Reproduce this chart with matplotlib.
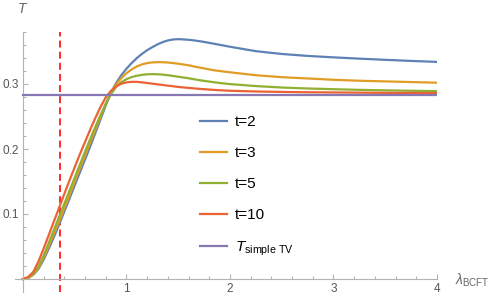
import matplotlib
matplotlib.use('Agg')
import matplotlib.pyplot as plt
from matplotlib.ticker import FixedLocator

plt.rcParams['font.family'] = ['Liberation Sans', 'DejaVu Sans']
plt.rcParams['mathtext.fontset'] = 'custom'
plt.rcParams['mathtext.rm'] = 'Liberation Sans'
plt.rcParams['mathtext.it'] = 'Liberation Sans:italic'
plt.rcParams['mathtext.bf'] = 'Liberation Sans:bold'
plt.rcParams['lines.scale_dashes'] = False

# ---- data ----
lam = [0.0, 0.05, 0.1, 0.15, 0.2, 0.25, 0.3, 0.35, 0.4, 0.45, 0.5, 0.55, 0.6,
       0.65, 0.7, 0.75, 0.8, 0.85, 0.9, 0.95, 1.0, 1.05, 1.1, 1.15, 1.2, 1.25,
       1.3, 1.35, 1.4, 1.45, 1.5, 1.55, 1.6, 1.65, 1.7, 1.75, 1.8, 1.85, 1.9,
       1.95, 2.0, 2.25, 2.5, 2.75, 3.0, 3.25, 3.5, 3.75, 4.0]
T_t2 = [0.0, 0.0015, 0.0065, 0.0155, 0.030, 0.047, 0.065, 0.084, 0.104, 0.124,
        0.144, 0.164, 0.184, 0.204, 0.225, 0.246, 0.267, 0.2865, 0.3015, 0.3135,
        0.3235, 0.3322, 0.3398, 0.3464, 0.352, 0.3567, 0.361, 0.3645, 0.367,
        0.3685, 0.369, 0.3686, 0.368, 0.3671, 0.366, 0.3647, 0.3633, 0.3618,
        0.3603, 0.3588, 0.3573, 0.3505, 0.3462, 0.3432, 0.341, 0.339, 0.3372,
        0.3355, 0.334]
T_t3 = [0.0, 0.0017, 0.007, 0.017, 0.033, 0.051, 0.070, 0.089, 0.109, 0.129,
        0.150, 0.170, 0.190, 0.210, 0.230, 0.250, 0.270, 0.2865, 0.2995, 0.309,
        0.3165, 0.3225, 0.327, 0.3302, 0.3322, 0.3332, 0.3336, 0.3335, 0.333,
        0.3322, 0.3312, 0.330, 0.3288, 0.327, 0.3255, 0.324, 0.3225, 0.321,
        0.320, 0.319, 0.318, 0.3135, 0.3105, 0.3085, 0.3065, 0.305, 0.304,
        0.303, 0.302]
T_t5 = [0.0, 0.002, 0.008, 0.019, 0.036, 0.056, 0.076, 0.096, 0.116, 0.136,
        0.156, 0.176, 0.196, 0.2155, 0.2345, 0.2525, 0.2695, 0.2845, 0.2955,
        0.3028, 0.3075, 0.3106, 0.3127, 0.3141, 0.3149, 0.3152, 0.315, 0.3144,
        0.3135, 0.3124, 0.3112, 0.310, 0.3088, 0.3074, 0.306, 0.3048, 0.3037,
        0.3026, 0.3016, 0.3007, 0.2999, 0.2968, 0.2946, 0.2931, 0.292, 0.291,
        0.2902, 0.2896, 0.289]
T_t10 = [0.0, 0.003, 0.011, 0.027, 0.047, 0.068, 0.089, 0.110, 0.131, 0.152,
         0.172, 0.192, 0.211, 0.230, 0.248, 0.265, 0.2795, 0.2895, 0.2963,
         0.3005, 0.3025, 0.3033, 0.3033, 0.3025, 0.3015, 0.3005, 0.2995, 0.2985,
         0.2975, 0.2965, 0.2955, 0.2947, 0.294, 0.2933, 0.2926, 0.292, 0.2914,
         0.2909, 0.2904, 0.290, 0.2896, 0.2885, 0.2878, 0.2873, 0.287, 0.2867,
         0.2864, 0.2862, 0.286]
T_simple = 0.283
lam_marker = 0.357

series = [("t=2", T_t2, "#5E81B5"),
          ("t=3", T_t3, "#E19C24"),
          ("t=5", T_t5, "#8FB032"),
          ("t=10", T_t10, "#EB6235")]

fig = plt.figure(figsize=(5, 3.03), dpi=100)
ax = fig.add_axes([15/500, 11/303, 422/500, 260/303])

ax.axvline(lam_marker, color="#FF2A2A", lw=1.4, ls=(0, (5, 3)), zorder=1)
for label, vals, col in series:
    ax.plot(lam, vals, color=col, lw=1.6, label=label, zorder=2,
            solid_joinstyle="round")
ax.plot(lam, [T_simple] * len(lam), color="#8778B3", lw=1.6,
        label=r"$T_{\mathrm{simple\ TV}}$", zorder=3)

ax.set_xlim(-0.077, 4.0)
ax.set_ylim(-0.02, 0.38)

for s in ("top", "right"):
    ax.spines[s].set_visible(False)
for s in ("left", "bottom"):
    ax.spines[s].set_position(("data", 0))
    ax.spines[s].set_color("#B3B3B3")
    ax.spines[s].set_linewidth(0.8)

ax.xaxis.set_major_locator(FixedLocator([1, 2, 3, 4]))
ax.xaxis.set_minor_locator(FixedLocator([i * 0.2 for i in range(1, 20) if i % 5]))
ax.yaxis.set_major_locator(FixedLocator([0.1, 0.2, 0.3]))
ax.yaxis.set_minor_locator(FixedLocator([i * 0.02 for i in range(1, 20) if i % 5]))
ax.set_xticklabels(["1", "2", "3", "4"])
ax.set_yticklabels(["0.1", "0.2", "0.3"])
ax.tick_params(which="both", direction="in", color="#B3B3B3",
               labelcolor="#555555", labelsize=8.5, width=0.8)
ax.tick_params(which="major", length=3.8, pad=3)
ax.tick_params(which="minor", length=2.2)

ax.text(0.0, 0.416, r"$T$", color="#666666", fontsize=10, ha="center",
        va="center", transform=ax.transData, clip_on=False)
fig.text(455/500, 1 - 280/303, r"$\lambda_{\mathrm{BCFT}}$", color="#666666",
         fontsize=10, ha="left", va="center")

leg = ax.legend(loc="upper left", bbox_to_anchor=(200/500, 1 - 115/303),
                bbox_transform=fig.transFigure, frameon=False, fontsize=11,
                handlelength=1.75, handletextpad=0.55, labelspacing=1.12,
                borderpad=0, borderaxespad=0)

fig.savefig("out.png", dpi=100)
